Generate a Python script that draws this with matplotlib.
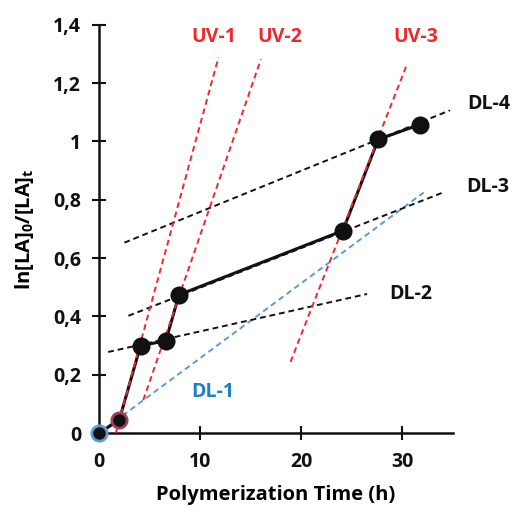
import matplotlib.pyplot as plt

plt.rcParams["font.family"] = ["Open Sans", "DejaVu Sans"]
plt.rcParams["font.weight"] = "bold"
plt.rcParams["mathtext.fontset"] = "custom"
plt.rcParams["mathtext.rm"] = "Open Sans:bold"
plt.rcParams["mathtext.it"] = "Open Sans:bold"
plt.rcParams["mathtext.bf"] = "Open Sans:bold"

COLOR_RED = "#f0282d"
COLOR_BLUE_LINE = "#5a9ad8"
COLOR_BLUE_TEXT = "#1f7fc4"
COLOR_BLACK = "#111111"

# measured conversion
time_h = [0, 2, 4.1, 6.6, 7.9, 24.1, 27.6, 31.7]
ln_ratio = [0, 0.045, 0.30, 0.316, 0.474, 0.694, 1.007, 1.058]

# fitted regime lines (endpoints)
uv1_x, uv1_y = [1.66, 11.8], [0.0, 1.288]
uv2_x, uv2_y = [4.37, 16.0], [0.113, 1.282]
uv3_x, uv3_y = [18.93, 30.45], [0.244, 1.265]
dl1_x, dl1_y = [0.0, 32.1], [0.0, 0.825]
dl2_x, dl2_y = [0.9, 26.5], [0.278, 0.477]
dl3_x, dl3_y = [2.9, 34.0], [0.402, 0.825]
dl4_x, dl4_y = [2.5, 34.7], [0.653, 1.107]

uv_labels = ["UV-1", "UV-2", "UV-3"]
uv_label_x = [11.3, 17.9, 31.3]
dl_labels = ["DL-1", "DL-2", "DL-3", "DL-4"]
dl_label_x = [9.1, 28.7, 36.3, 36.4]
dl_label_y = [0.14, 0.477, 0.845, 1.127]

fig = plt.figure(figsize=(5.16, 5.08), dpi=100)
ax = fig.add_axes([0.192, 0.1476, 0.686, 0.8034])

dash = dict(linestyle=(0, (3, 2)), linewidth=1.4)
for xs, ys in [(uv1_x, uv1_y), (uv2_x, uv2_y), (uv3_x, uv3_y)]:
    ax.plot(xs, ys, color=COLOR_RED, zorder=4, clip_on=False, **dash)
ax.plot(dl1_x, dl1_y, color=COLOR_BLUE_LINE, zorder=2, clip_on=False, **dash)
for xs, ys in [(dl2_x, dl2_y), (dl3_x, dl3_y), (dl4_x, dl4_y)]:
    ax.plot(xs, ys, color=COLOR_BLACK, zorder=2, clip_on=False, **dash)

ax.plot(time_h, ln_ratio, color=COLOR_BLACK, linewidth=2.2, zorder=3)
edge_colors = [COLOR_BLUE_LINE, "#9a4060", COLOR_BLACK, COLOR_BLACK,
               COLOR_BLACK, COLOR_BLACK, COLOR_BLACK, COLOR_BLACK]
for x, y, ec in zip(time_h, ln_ratio, edge_colors):
    ax.plot(x, y, "o", markersize=11, color=COLOR_BLACK, markeredgecolor=ec,
            markeredgewidth=2, zorder=5, clip_on=False)

for lab, x in zip(uv_labels, uv_label_x):
    ax.text(x, 1.36, lab, color=COLOR_RED, fontsize=14, fontweight="bold",
            ha="center", va="center")
for lab, x, y in zip(dl_labels, dl_label_x, dl_label_y):
    c = COLOR_BLUE_TEXT if lab == "DL-1" else COLOR_BLACK
    ax.text(x, y, lab, color=c, fontsize=14, fontweight="bold",
            ha="left", va="center", clip_on=False)

ax.set_xlim(0, 35)
ax.set_ylim(0, 1.4)
ax.set_xticks([0, 10, 20, 30])
ax.set_yticks([0, 0.2, 0.4, 0.6, 0.8, 1.0, 1.2, 1.4])
ax.set_yticklabels(["0", "0,2", "0,4", "0,6", "0,8", "1", "1,2", "1,4"])

for spine in ("top", "right"):
    ax.spines[spine].set_visible(False)
for spine in ("left", "bottom"):
    ax.spines[spine].set_linewidth(1.8)
    ax.spines[spine].set_color(COLOR_BLACK)
ax.tick_params(direction="inout", length=10, width=1.5, labelsize=14,
               colors=COLOR_BLACK)
ax.tick_params(axis="x", pad=9)
ax.tick_params(axis="y", pad=8)
for lbl in ax.get_xticklabels() + ax.get_yticklabels():
    lbl.set_fontweight("bold")

ax.set_xlabel("Polymerization Time (h)", fontsize=14.5, fontweight="bold", labelpad=9)
ax.set_ylabel(r"ln[LA]$_0$/[LA]$_t$", fontsize=14.5, fontweight="bold", labelpad=12)

fig.savefig("out.png", dpi=100)
